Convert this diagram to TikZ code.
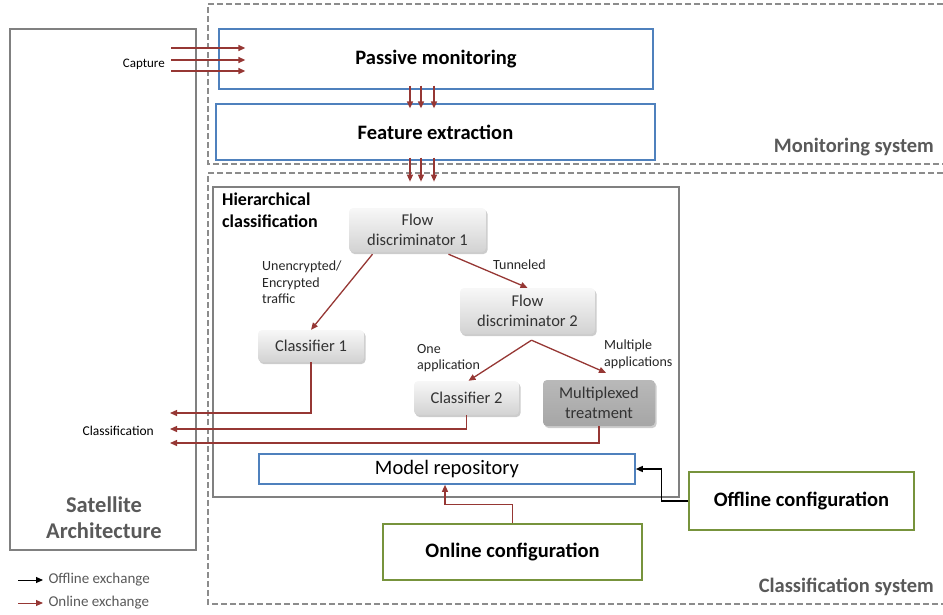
\documentclass[tikz,border=0pt]{standalone}
\usepackage{fontspec}
\setmainfont{Carlito}
\usepackage{xcolor}
\usetikzlibrary{calc,shadows,arrows.meta}
\definecolor{boxblue}{RGB}{79,129,189}
\definecolor{boxgreen}{RGB}{119,147,60}
\definecolor{linkred}{RGB}{150,55,52}
\definecolor{textgray}{RGB}{89,89,89}
\begin{document}
\begin{tikzpicture}[x=1pt,y=-1pt]
    \tikzstyle{every node}=[inner sep=0pt, align=center]
    \tikzstyle{block}=[draw=boxblue, line width=1.3pt, font=\fontsize{20.5}{24}\selectfont\bfseries]
    \tikzstyle{config}=[draw=boxgreen, line width=1.3pt, font=\fontsize{20.5}{24}\selectfont\bfseries]
    \tikzstyle{stage}=[rounded corners=4pt, top color=gray!6, bottom color=gray!35, draw=none,
        drop shadow={opacity=0.4, shadow xshift=1.5pt, shadow yshift=-2pt},
        font=\fontsize{16.5}{20}\selectfont, text=black!80]
    \tikzstyle{system}=[draw=gray!90, line width=1.3pt, dash pattern=on 6pt off 3pt]
    \tikzstyle{syslabel}=[font=\fontsize{20.5}{24}\selectfont\bfseries, text=textgray]
    \tikzstyle{small}=[font=\fontsize{14}{16.5}\selectfont, align=left, text=black!85]
    \tikzstyle{online}=[draw=linkred, line width=1.3pt, -{Triangle[length=7pt,width=6pt]}]
    \tikzstyle{offline}=[draw=black, line width=1.3pt, -{Triangle[length=7pt,width=6pt]}]
    \useasboundingbox (0,0) rectangle (943,614);
    % Satellite side
    \node[draw=gray, line width=1.2pt, minimum width=186, minimum height=521] (sat) at (103,289.5) {};
    \node[font=\fontsize{22.5}{26}\selectfont\bfseries, text=textgray] (satname) at (104,518) {Satellite\\Architecture};
    % Systems
    \draw[system] (943,4) -- (208,4) -- (208,164) -- (943,164);
    \node[syslabel, anchor=east] (monsys) at (934,147) {Monitoring system};
    \draw[system] (943,173) -- (208,173) -- (208,604) -- (943,604);
    \node[syslabel, anchor=east] (clasys) at (934,587) {Classification system};
    % Monitoring
    \node[block, minimum width=434, minimum height=60] (pm) at (436,59) {\raisebox{-1.5pt}{Passive monitoring}};
    \node[block, minimum width=439, minimum height=56] (fe) at (435.5,132) {\raisebox{-1.5pt}{Feature extraction}};
    \foreach \dy in {-11,1,12}
        \draw[online] ($(pm.west)+(-47,\dy)$) -- ($(pm.west)+(27,\dy)$);
    \node[font=\fontsize{13}{15}\selectfont, anchor=east] (capture) at (165,64) {Capture};
    \foreach \dx in {-26,-15,-2} {
        \draw[online] ($(pm.south)+(\dx,-4)$) -- ($(fe.north)+(\dx+0.5,5)$);
        \draw[online] ($(fe.south)+(\dx+0.5,-3)$) -- ($(fe.south)+(\dx+0.5,21)$);
    }
    % Hierarchical classification
    \node[draw=gray, line width=1.2pt, minimum width=466, minimum height=310] (hc) at (446,342) {};
    \node[font=\fontsize{18}{22}\selectfont\bfseries, align=left, anchor=north west] (hcname) at (222,193) {Hierarchical\\classification};
    \node[stage, minimum width=137, minimum height=44] (fd1) at (417.5,230) {Flow\\discriminator 1};
    \node[stage, minimum width=135, minimum height=46] (fd2) at (527.5,311) {Flow\\discriminator 2};
    \node[stage, minimum width=106, minimum height=32] (cl1) at (311,346) {Classifier 1};
    \node[stage, minimum width=105, minimum height=34] (cl2) at (466.5,398) {Classifier 2};
    \node[stage, minimum width=112, minimum height=46, top color=gray!55, bottom color=gray!70] (mux) at (599,403) {Multiplexed\\treatment};
    \draw[online] ($(fd1.south)+(-45,2)$) -- (cl1.north);
    \draw[online] ($(fd1.south)+(31,2)$) -- (fd2.north);
    \draw[online] ($(fd2.south)+(4,6)$) -- ($(cl2.north)+(2,0)$);
    \draw[online] ($(fd2.south)+(4,6)$) -- ($(mux.north)+(7,-7)$);
    \node[small, anchor=north west] (lbl1) at (262,261) {Unencrypted/\\Encrypted\\traffic};
    \node[small, anchor=north west] (lbl2) at (493,260) {Tunneled};
    \node[small, anchor=north west] (lbl3) at (417,344) {One\\application};
    \node[small, anchor=north west] (lbl4) at (604,340) {Multiple\\applications};
    % Results back to the satellite
    \coordinate (out1) at (170,413);
    \coordinate (out2) at (170,429);
    \coordinate (out3) at (170,443);
    \draw[online] (cl1.south) |- (out1);
    \draw[online] (cl2.south) |- (out2);
    \draw[online] (mux.south) |- (out3);
    \node[font=\fontsize{13.5}{15}\selectfont, anchor=east] (classif) at (154,431) {Classification};
    % Configuration
    \node[draw=boxblue, line width=1.6pt, minimum width=376, minimum height=30, font=\fontsize{20.5}{24}\selectfont] (mr) at (447,469) {\raisebox{-1pt}{Model repository}};
    \node[config, minimum width=225, minimum height=58] (off) at (801.5,501) {\raisebox{-1.5pt}{Offline configuration}};
    \node[config, minimum width=259, minimum height=56] (on) at (512.5,552) {\raisebox{-1.5pt}{Online configuration}};
    \draw[offline] (off.west) -- ++(-27,0) |- (mr.east);
    \draw[online] (on.north) -- ++(0,-19) -| ($(mr.south)+(-2,0)$);
    % Legend
    \coordinate (lg1) at (18,580);
    \coordinate (lg2) at (18,603);
    \draw[offline, line width=1pt] (lg1) -- ++(25,0) node[right=5pt, font=\fontsize{15}{17}\selectfont, text=textgray] (lgoff) {Offline exchange};
    \draw[online, line width=1pt] (lg2) -- ++(25,0) node[right=5pt, font=\fontsize{15}{17}\selectfont, text=textgray] (lgon) {Online exchange};
\end{tikzpicture}
\end{document}
